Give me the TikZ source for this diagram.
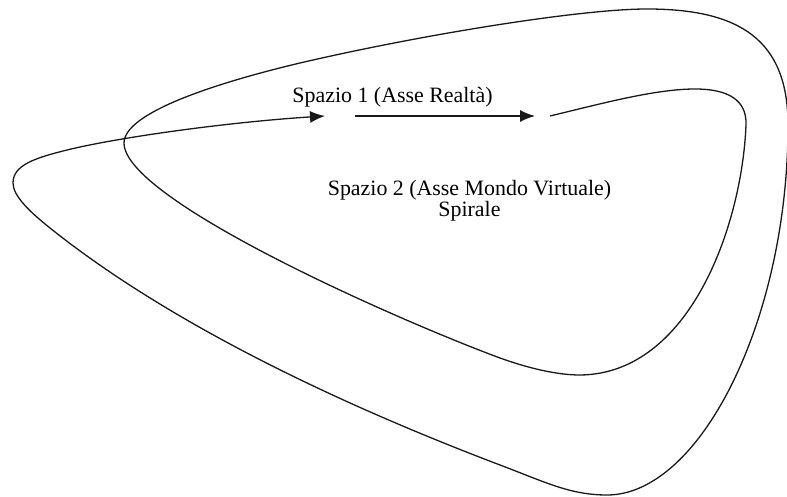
\documentclass[tikz,border=0pt]{standalone}
\usepackage{fontspec}
\setmainfont{Liberation Serif}
\usetikzlibrary{arrows.meta}
\begin{document}
\begin{tikzpicture}[x=1pt,y=-1pt,
  curve/.style={line width=1.3pt, black!90},
  head/.style={-{Latex[length=15pt,width=12pt]}},
  lbl/.style={font=\fontsize{21.9}{21}\selectfont, inner sep=0pt, anchor=base, align=center}]
\useasboundingbox (0,0) rectangle (787,497);

% spiral: starts inside, winds outward and ends in an arrow
\draw[curve, head]
  (550,116) .. controls (600,104) and (655,89) .. (695,89)
            .. controls (728,89) and (747,100) .. (746,125)
            .. controls (742,225) and (690,374) .. (580,375)
            .. controls (555,375) and (525,367) .. (500,358)
            .. controls (400,321) and (124,200) .. (124,143)
            .. controls (124,112) and (220,82) .. (300,63)
            .. controls (420,35) and (580,9) .. (647,9)
            .. controls (740,9) and (788,40) .. (788,125)
            .. controls (788,320) and (700,495) .. (607,495)
            .. controls (570,495) and (545,482) .. (500,465)
            .. controls (300,389) and (150,308) .. (50,228)
            .. controls (30,212) and (13,196) .. (13,183)
            .. controls (13,165) and (35,158) .. (67,150)
            .. controls (120,137) and (230,122) .. (325,116);

% straight axis arrow
\coordinate (a1) at (355,116);
\coordinate (a2) at (535,116);
\draw[curve, head] (a1) -- (a2);

\node[lbl] (s1) at (392.5,103) {Spazio 1 (Asse Realtà)};
\node[lbl] (s2) at (469.5,217) {Spazio 2 (Asse Mondo Virtuale)\\Spirale};
\end{tikzpicture}
\end{document}
